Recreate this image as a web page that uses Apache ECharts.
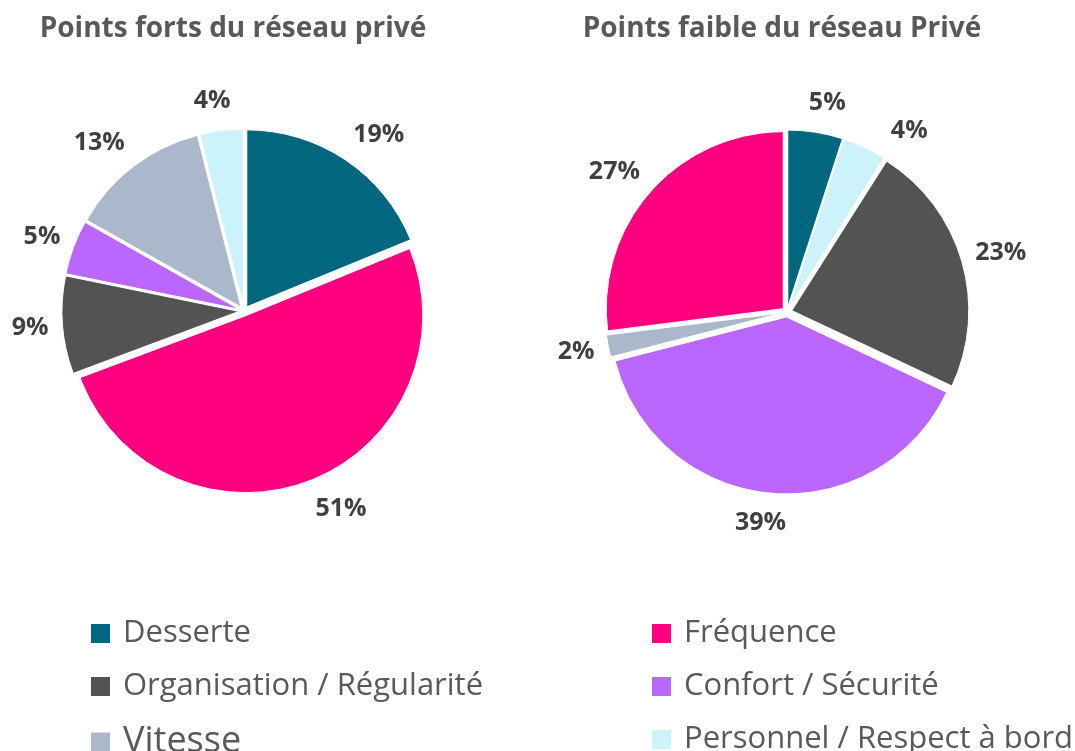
<!DOCTYPE html>
<html>
<head>
<meta charset="utf-8">
<script src="https://cdn.jsdelivr.net/npm/echarts@6/dist/echarts.min.js"></script>
<style>
  html, body { margin: 0; padding: 0; background: #ffffff; }
  #chart { width: 1075px; height: 751px; }
</style>
</head>
<body>
<div id="chart"></div>
<script>
// Categories and their fill colours
const categories = ['Desserte', 'Fréquence', 'Organisation / Régularité', 'Confort / Sécurité', 'Vitesse', 'Personnel / Respect à bord'];
const categoryColors = ['#00677F', '#FF007F', '#535353', '#BB66FF', '#ABB8CB', '#CCF3FC'];

// Strong points (clockwise from 12 o'clock), in %
const fortsCategories = ['Desserte', 'Fréquence', 'Organisation / Régularité', 'Confort / Sécurité', 'Vitesse', 'Personnel / Respect à bord'];
const fortsValues = [19, 51, 9, 5, 13, 4];

// Weak points (clockwise from 12 o'clock), in %
const faiblesCategories = ['Desserte', 'Personnel / Respect à bord', 'Organisation / Régularité', 'Confort / Sécurité', 'Vitesse', 'Fréquence'];
const faiblesValues = [5, 4, 23, 39, 2, 27];

const titles = ['Points forts du réseau privé', 'Points faible du réseau Privé'];
const legendLeft = ['Desserte', 'Organisation / Régularité', 'Vitesse'];
const legendRight = ['Fréquence', 'Confort / Sécurité', 'Personnel / Respect à bord'];

const FONT = '"Open Sans", sans-serif';
const colorOf = name => categoryColors[categories.indexOf(name)];

// Mid-angle of each slice (radians, clockwise from 12 o'clock)
function midAngles(values) {
  const total = values.reduce((a, b) => a + b, 0);
  let acc = 0;
  return values.map(v => {
    const mid = (acc + v / 2) / total * 2 * Math.PI;
    acc += v;
    return mid;
  });
}
const sliceAngles = [midAngles(fortsValues), midAngles(faiblesValues)];

// Nudge outside labels so the label box sits just off the rim:
// labels near the top or bottom are centred on their slice, the others stay beside it.
function placeLabel(p) {
  const a = sliceAngles[p.seriesIndex][p.dataIndex];
  const s = Math.sin(a);
  const side = Math.min(1, Math.abs(s) / 0.3);
  return {
    dx: -Math.sign(s) * (1 - side) * p.labelRect.width / 2,
    dy: -Math.cos(a) * 16
  };
}

function pieData(names, values) {
  return names.map((n, i) => ({
    name: n,
    value: values[i],
    selected: true,
    itemStyle: { color: colorOf(n) }
  }));
}

function pieSeries(name, center, names, values) {
  return {
    type: 'pie',
    name: name,
    center: center,
    radius: 177,
    startAngle: 90,
    clockwise: true,
    selectedMode: 'multiple',
    selectedOffset: 5,
    silent: true,
    avoidLabelOverlap: true,
    itemStyle: { borderColor: '#ffffff', borderWidth: 1 },
    select: { itemStyle: { borderColor: '#ffffff', borderWidth: 1 } },
    emphasis: { disabled: true },
    label: {
      show: true,
      position: 'outside',
      formatter: p => p.value + '%',
      fontFamily: FONT,
      fontWeight: 'bold',
      fontSize: 25,
      color: '#404040',
      overflow: 'none',
      distanceToLabelLine: 0
    },
    labelLine: { show: false, length: 14, length2: 0 },
    labelLayout: placeLabel,
    data: pieData(names, values)
  };
}

const legendText = {
  fontFamily: FONT,
  fontSize: 31,
  lineHeight: 30,
  color: '#595959',
  padding: [0, 0, 0, 7],
  rich: { big: { fontFamily: FONT, fontSize: 36, lineHeight: 30, color: '#595959' } }
};

const legendBase = {
  orient: 'vertical', top: 618, height: 220, padding: 0, icon: 'rect',
  itemWidth: 21, itemHeight: 21, itemGap: 22, selectedMode: false,
  formatter: n => n === 'Vitesse' ? '{big|' + n + '}' : n,
  textStyle: legendText
};

const chart = echarts.init(document.getElementById('chart'), null, { renderer: 'canvas' });
chart.setOption({
  backgroundColor: '#ffffff',
  animation: false,
  title: [
    { text: titles[0], left: 228, top: 10, textAlign: 'center',
      textStyle: { fontFamily: FONT, fontWeight: 'bold', fontSize: 28, color: '#595959' } },
    { text: titles[1], left: 777, top: 10, textAlign: 'center',
      textStyle: { fontFamily: FONT, fontWeight: 'bold', fontSize: 28, color: '#595959' } }
  ],
  legend: [
    Object.assign({}, legendBase, { data: legendLeft, left: 89 }),
    Object.assign({}, legendBase, { data: legendRight, left: 650 })
  ],
  series: [
    pieSeries('Points forts', [244, 311], fortsCategories, fortsValues),
    pieSeries('Points faibles', [787, 312], faiblesCategories, faiblesValues)
  ]
});
</script>
</body>
</html>
